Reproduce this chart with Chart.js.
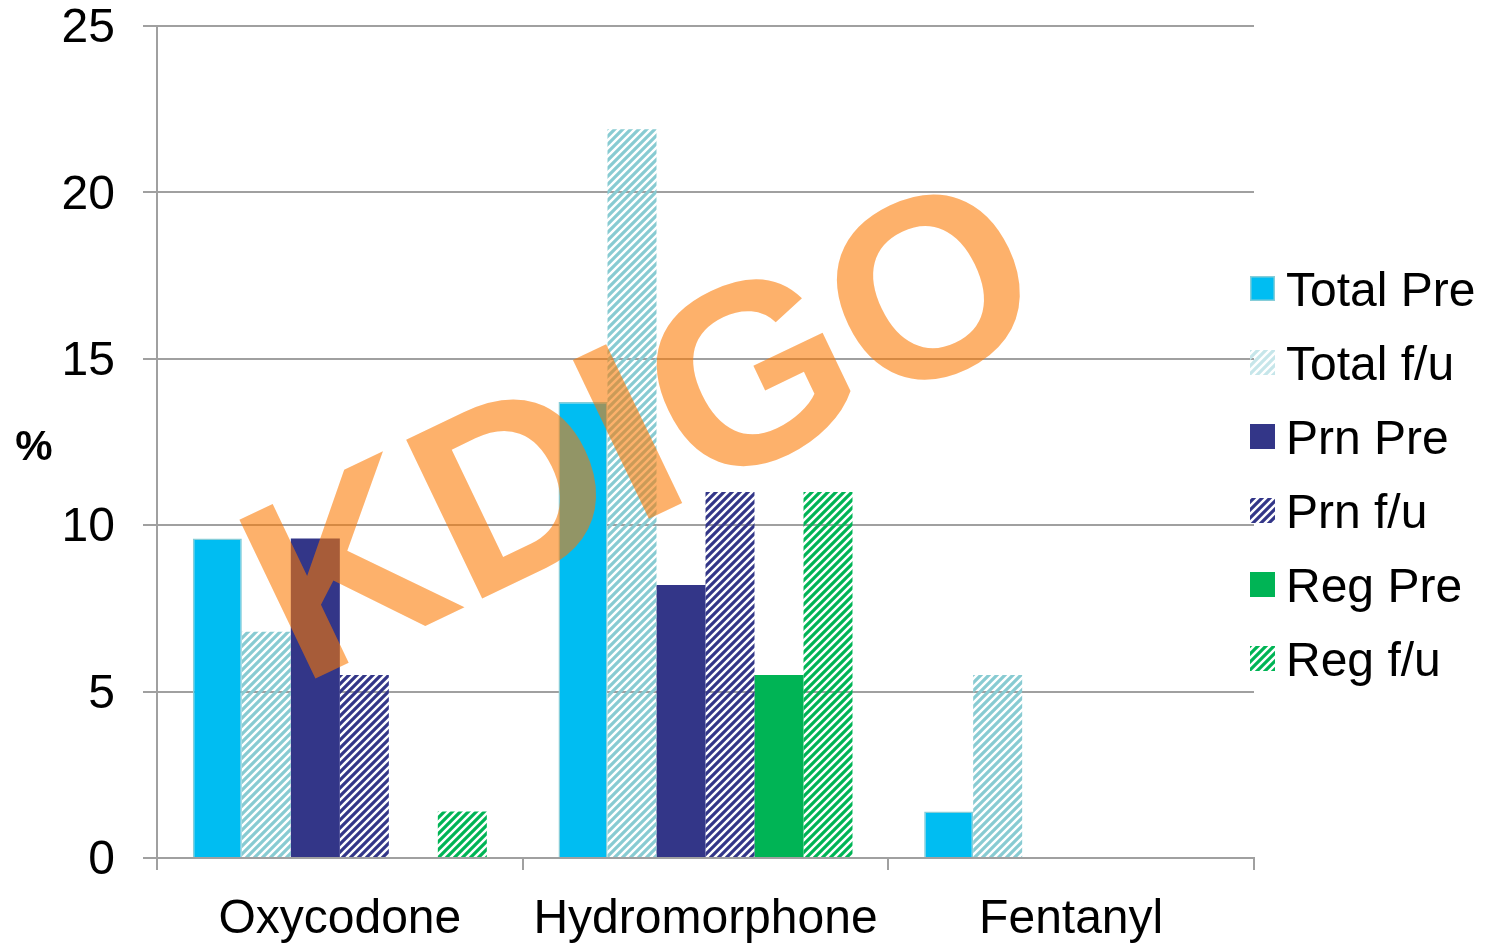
<!DOCTYPE html>
<html>
<head>
<meta charset="utf-8">
<script src="https://cdn.jsdelivr.net/npm/chart.js@4/dist/chart.umd.min.js"></script>
<style>
    html, body { margin: 0; padding: 0; background: #ffffff; }
    #wrap { width: 1490px; height: 945px; }
</style>
</head>
<body>
<div id="wrap"><canvas id="myChart" width="1490" height="945"></canvas></div>
<script>
var categories = ['Oxycodone', 'Hydromorphone', 'Fentanyl'];
var seriesNames = ['Total Pre', 'Total f/u', 'Prn Pre', 'Prn f/u', 'Reg Pre', 'Reg f/u'];
var totalPre = [9.6, 13.7, 1.4];
var totalFu = [6.8, 21.9, 5.5];
var prnPre = [9.6, 8.2, 0];
var prnFu = [5.5, 11.0, 0];
var regPre = [0, 5.5, 0];
var regFu = [1.4, 11.0, 0];
var yTicks = [0, 5, 10, 15, 20, 25];

var FONT = '"Liberation Sans", Arial, sans-serif';
var GRID = '#A0A0A0';

// diagonal "/" stripes on a small tile
function makeHatch(color) {
    var c = document.createElement('canvas');
    c.width = 8;
    c.height = 8;
    var g = c.getContext('2d');
    g.strokeStyle = color;
    g.lineWidth = 3.2;
    g.beginPath();
    g.moveTo(0, 8); g.lineTo(8, 0);
    g.moveTo(-2, 2); g.lineTo(2, -2);
    g.moveTo(6, 10); g.lineTo(10, 6);
    g.stroke();
    return document.getElementById('myChart').getContext('2d').createPattern(c, 'repeat');
}

var colTotal = '#00BDF2';
var colTotalHatch = '#88CBD2';
var colPrn = '#333688';
var colReg = '#00B455';

var fills = [colTotal, makeHatch(colTotalHatch), colPrn, makeHatch(colPrn), colReg, makeHatch(colReg)];
// legend swatches (Total f/u is lighter in the key)
var legendFills = [colTotal, makeHatch('#C6E6EA'), colPrn, makeHatch(colPrn), colReg, makeHatch(colReg)];
var values = [totalPre, totalFu, prnPre, prnFu, regPre, regFu];

var datasets = [];
for (var i = 0; i < seriesNames.length; i++) {
    datasets.push({
        label: seriesNames[i],
        data: values[i],
        backgroundColor: fills[i],
        borderColor: i === 0 ? '#86CDD8' : fills[i],
        borderWidth: i === 0 ? 1.5 : 0,
        categoryPercentage: 0.804,
        barPercentage: 1
    });
}

// legend, "%" title and the watermark
var extras = {
    id: 'extras',
    afterDraw: function(chart) {
        var ctx = chart.ctx;
        ctx.save();
        ctx.font = '48px ' + FONT;
        ctx.textBaseline = 'middle';
        ctx.textAlign = 'left';
        for (var i = 0; i < seriesNames.length; i++) {
            var cy = 288 + i * 74;
            ctx.fillStyle = legendFills[i];
            ctx.fillRect(1250, cy - 12, 25, 25);
            if (i === 0) {
                ctx.strokeStyle = '#86CDD8';
                ctx.lineWidth = 1.5;
                ctx.strokeRect(1250.75, cy - 11.25, 23.5, 23.5);
            }
            ctx.fillStyle = '#000000';
            ctx.fillText(seriesNames[i], 1286, cy + 5);
        }

        ctx.font = 'bold 42px ' + FONT;
        ctx.textAlign = 'center';
        ctx.fillText('%', 34, 448);

        ctx.translate(300, 686);
        ctx.rotate(-25.6 * Math.PI / 180);
        ctx.font = 'bold 256px ' + FONT;
        ctx.textAlign = 'left';
        ctx.textBaseline = 'alphabetic';
        ctx.fillStyle = 'rgba(252, 120, 0, 0.58)';
        ctx.fillText('KDIGO', 0, 0);
        ctx.restore();
    }
};

var ctx = document.getElementById('myChart').getContext('2d');
var myChart = new Chart(ctx, {
    type: 'bar',
    data: { labels: categories, datasets: datasets },
    plugins: [extras],
    options: {
        responsive: false,
        animation: false,
        devicePixelRatio: 1,
        layout: { padding: { left: 62, right: 236, top: 26, bottom: 0 } },
        plugins: {
            legend: { display: false },
            tooltip: { enabled: false }
        },
        scales: {
            x: {
                offset: true,
                afterFit: function(axis) {
                    axis.height = 87;
                    axis.paddingLeft = 0;
                    axis.paddingRight = 0;
                },
                grid: {
                    offset: true,
                    drawOnChartArea: false,
                    drawTicks: true,
                    tickLength: 12,
                    color: GRID,
                    lineWidth: 2
                },
                border: { color: GRID, width: 2 },
                ticks: {
                    color: '#000000',
                    padding: 21,
                    font: { family: FONT, size: 48 }
                }
            },
            y: {
                min: 0,
                max: 25,
                afterBuildTicks: function(axis) {
                    axis.ticks = yTicks.map(function(v) { return { value: v }; });
                },
                afterFit: function(axis) {
                    axis.width = 95;
                    axis.paddingTop = 0;
                    axis.paddingBottom = 0;
                },
                grid: {
                    color: GRID,
                    lineWidth: 2,
                    tickLength: 14
                },
                border: { color: GRID, width: 2 },
                ticks: {
                    color: '#000000',
                    padding: 28,
                    labelOffset: 3,
                    font: { family: FONT, size: 48, lineHeight: 1 }
                }
            }
        }
    }
});
</script>
</body>
</html>
